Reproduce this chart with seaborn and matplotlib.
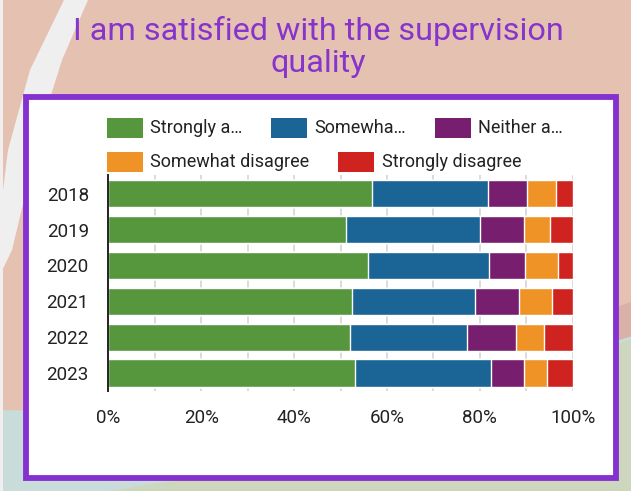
import matplotlib
matplotlib.use("Agg")
import matplotlib.pyplot as plt
from matplotlib.patches import Polygon, Rectangle
from matplotlib.ticker import MultipleLocator, FuncFormatter
import numpy as np
import pandas as pd
import seaborn as sns

# Survey responses (percent of respondents per year)
years = ["2018", "2019", "2020", "2021", "2022", "2023"]
categories = ["Strongly agree", "Somewhat agree", "Neither agree nor disagree",
              "Somewhat disagree", "Strongly disagree"]
legend_labels = ["Strongly a\u2026", "Somewha\u2026", "Neither a\u2026",
                 "Somewhat disagree", "Strongly disagree"]
strongly_agree = [56.7, 51.1, 56.0, 52.4, 52.1, 53.2]
somewhat_agree = [25.0, 28.9, 26.0, 26.5, 25.1, 29.2]
neither = [8.4, 9.5, 7.8, 9.5, 10.5, 7.1]
somewhat_disagree = [6.4, 5.6, 7.1, 7.1, 6.1, 5.0]
strongly_disagree = [3.5, 4.9, 3.1, 4.5, 6.2, 5.5]
colors = ["#56963c", "#1a6595", "#771e6e", "#f09326", "#cf2320"]
x_ticks = [0, 20, 40, 60, 80, 100]

W, H = 636, 491
sns.set_theme(style="white")
plt.rcParams["font.family"] = ["Roboto", "DejaVu Sans"]

fig = plt.figure(figsize=(W / 100, H / 100), dpi=100, facecolor="#e5c1b2")


def px(x, y):
    """Pixel position (from top-left) to figure fraction."""
    return (x / W, 1 - y / H)


def poly(points, color, z=0):
    fig.add_artist(Polygon([px(x, y) for x, y in points], closed=True,
                           transform=fig.transFigure, facecolor=color,
                           edgecolor="none", zorder=z))


# Decorative background shapes
poly([(64, 0), (88, 0), (62, 60), (40, 130), (24, 200), (12, 250), (0, 275),
      (0, 215), (8, 150), (30, 70)], "#efefef")
poly([(0, 410), (200, 425), (420, 380), (636, 300), (636, 491), (0, 491)], "#d9b1a6")
poly([(0, 410), (120, 412), (300, 430), (420, 400), (636, 335), (636, 491), (0, 491)], "#c8dcda")
poly([(110, 491), (240, 470), (420, 410), (636, 338), (636, 491)], "#cdd7be")
poly([(0, 0), (3, 0), (3, 491), (0, 491)], "#f0eeee")
poly([(631, 0), (636, 0), (636, 491), (631, 491)], "#ffffff")

# White card with purple frame
x0, y0, x1, y1 = 26.3, 97.0, 616.3, 477.5
fig.add_artist(Rectangle(px(x0, y1), (x1 - x0) / W, (y1 - y0) / H,
                         transform=fig.transFigure, facecolor="white",
                         edgecolor="#8431cf", linewidth=4.2, zorder=1))

# Title
fig.text(0.5, 1 - 47 / H, "I am satisfied with the supervision\nquality",
         ha="center", va="center", fontsize=23.3, color="#8634cc",
         linespacing=1.13, zorder=3)

# Legend (two rows, drawn in figure space)
legend_items = [
    (107.3, 128.0, 150.0, 0),
    (271.4, 128.0, 314.0, 1),
    (435.2, 128.0, 478.0, 2),
    (107.3, 162.0, 150.0, 3),
    (338.4, 162.0, 381.6, 4),
]
for patch_x, cy, text_x, idx in legend_items:
    fig.add_artist(Rectangle(px(patch_x, cy + 10), 35.5 / W, 20 / H,
                             transform=fig.transFigure, facecolor=colors[idx],
                             edgecolor="none", zorder=3))
    fig.text(text_x / W, 1 - cy / H, legend_labels[idx], ha="left", va="center",
             fontsize=13, color="#222222", zorder=3)

# Data table with cumulative totals for stacking
series = [strongly_agree, somewhat_agree, neither, somewhat_disagree, strongly_disagree]
df = pd.DataFrame({"year": years})
for cat, vals in zip(categories, series):
    df[cat] = vals
cum = df[categories].cumsum(axis=1)
for cat in categories:
    df["cum_" + cat] = cum[cat]

ax = fig.add_axes([108.3 / W, 1 - 391 / H, (572.7 - 108.3) / W, 216 / H])
ax.set_facecolor("none")
ax.set_zorder(2)

# Overlay cumulative bars from the outermost segment inward
for cat, col in reversed(list(zip(categories, colors))):
    sns.barplot(data=df, x="cum_" + cat, y="year", order=years, orient="y",
                color=col, saturation=1, width=0.76, edgecolor="white",
                linewidth=1.0, errorbar=None, ax=ax)

ax.set_xlim(0, 100)
ax.set_ylim(5.5, -0.52)
ax.xaxis.set_minor_locator(MultipleLocator(10))
ax.set_xticks(x_ticks)
ax.xaxis.set_major_formatter(FuncFormatter(lambda v, p: f"{v:.0f}%"))
ax.grid(True, axis="x", which="both", color="#d8d8d8", linewidth=1.3)
ax.set_axisbelow(True)
ax.tick_params(axis="x", which="both", length=0, pad=13, labelsize=13.5,
               labelcolor="#222222")
ax.tick_params(axis="y", length=0, pad=14, labelsize=13.5, labelcolor="#222222")
ax.set_xlabel("")
ax.set_ylabel("")
for side in ["top", "right", "bottom"]:
    ax.spines[side].set_visible(False)
ax.spines["left"].set_color("#222222")
ax.spines["left"].set_linewidth(1.4)
ax.spines["left"].set_zorder(5)

fig.savefig("out.png", dpi=100, facecolor=fig.get_facecolor())
